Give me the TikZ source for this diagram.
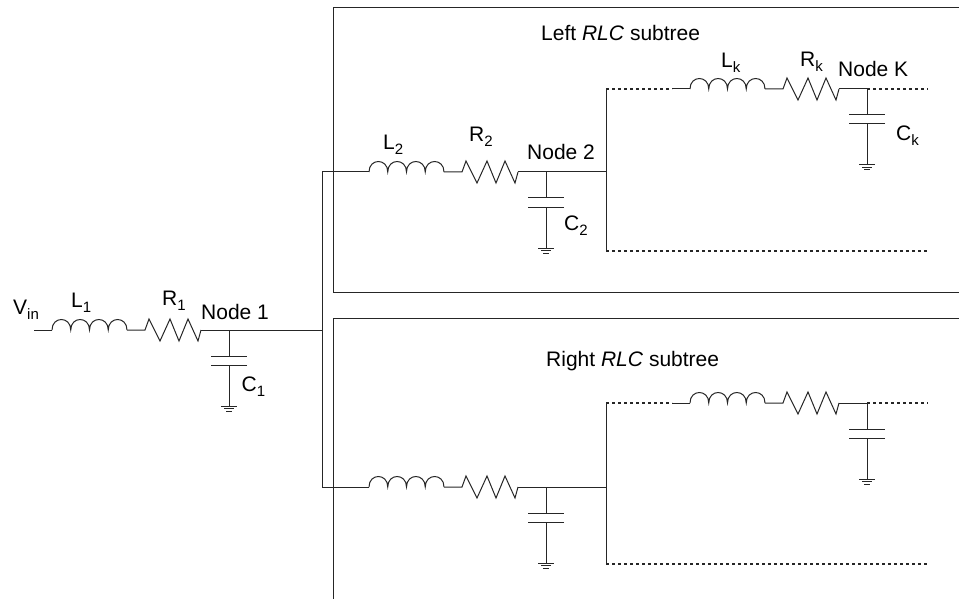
\documentclass[tikz,border=0pt]{standalone}
\usepackage{fontspec}
\setmainfont{Liberation Sans}
\newcommand{\lsub}[1]{\raisebox{-5pt}{\fontsize{15}{18}\selectfont #1}}
\tikzset{
  wire/.style={line width=1pt,black!85},
  dots/.style={line width=1.2pt,black!85,dash pattern=on 3.2pt off 2.8pt},
  lbl/.style={inner sep=0pt,anchor=base west,font=\fontsize{21}{24}\selectfont},
  pics/rlc/.style={code={
    \coordinate (-in) at (0,0);
    \coordinate (-lout) at (75,0);
    \coordinate (-rin) at (93,0);
    \coordinate (-out) at (149,0);
    \coordinate (-node) at (177,0);
    \coordinate (-gnd) at (177,76);
    % coil
    \draw[wire] (-in) \foreach \i in {1,...,4}{.. controls +(0,-14) and +(0,-14) .. ++(18.75,0)};
    % resistor
    \draw[wire] (-lout) -- (-rin) -- ++(4,-11) -- ++(11,22) -- ++(10,-22) -- ++(9,22) -- ++(9,-22) -- ++(10,22) -- (-out);
    % capacitor and ground
    \draw[wire] (-node) -- ++(0,26) ++(-18,0) -- ++(36,0) ++(0,9) -- ++(-36,0) ++(18,0) -- (-gnd);
    \draw[wire] (-gnd) ++(-8,0) -- ++(16,0) ++(-13,2.5) -- ++(10,0) ++(-8,2.5) -- ++(6,0);
  }}
}
\begin{document}
\begin{tikzpicture}[x=1pt,y=-1pt]
\useasboundingbox (0,0) rectangle (959,599);
\coordinate (ltl) at (333,8);
\coordinate (ltr) at (959,8);
\coordinate (lbl) at (333,292);
\coordinate (lbr) at (959,292);
\coordinate (rtl) at (333,318);
\coordinate (rtr) at (959,318);
\coordinate (rbl) at (333,599);
\draw[wire] (ltr) -- (ltl) -- (lbl) -- (lbr);
\draw[wire] (rtr) -- (rtl) -- (rbl);

\pic (s1) at (52,330) {rlc};
\pic (s2) at (369,172) {rlc};
\pic (sk) at (690,89) {rlc};
\pic (t2) at (369,487) {rlc};
\pic (tk) at (690,403) {rlc};

\coordinate (vin) at (34,330);
\coordinate (bus) at (322,330);
\coordinate (bust) at (322,172);
\coordinate (busb) at (322,487);
\coordinate (fork) at (606,172);
\coordinate (forkt) at (606,89);
\coordinate (forkb) at (606,251);
\coordinate (forkbe) at (928,251);
\coordinate (kend) at (928,89);
\coordinate (sgap) at (672,89);
\coordinate (gork) at (606,487);
\coordinate (gorkt) at (606,403);
\coordinate (gorkb) at (606,564);
\coordinate (gorkbe) at (928,564);
\coordinate (tgap) at (672,403);
\coordinate (tend) at (928,403);

\draw[wire] (vin) -- (s1-in);
\draw[wire] (s1-out) -- (bus);
\draw[wire] (bust) -- (busb);
\draw[wire] (bust) -- (s2-in);
\draw[wire] (busb) -- (t2-in);
\draw[wire] (s2-out) -- (fork);
\draw[wire] (t2-out) -- (gork);
\draw[wire] (forkt) -- (forkb);
\draw[wire] (gorkt) -- (gorkb);
\draw[dots] (forkt) -- (sgap);
\draw[wire] (sgap) -- (sk-in);
\draw[wire] (sk-out) -- (sk-node);
\draw[dots] (sk-node) -- (kend);
\draw[dots] (forkb) -- (forkbe);
\draw[dots] (gorkt) -- (tgap);
\draw[wire] (tgap) -- (tk-in);
\draw[wire] (tk-out) -- (tk-node);
\draw[dots] (tk-node) -- (tend);
\draw[dots] (gorkb) -- (gorkbe);

\node[lbl] (vinl) at (13,314) {V\lsub{in}};
\node[lbl] (l1) at (71,307) {L\lsub{1}};
\node[lbl] (r1) at (162,305) {R\lsub{1}};
\node[lbl] (n1) at (201,319) {Node 1};
\node[lbl] (c1) at (241.5,391) {C\lsub{1}};
\node[lbl] (l2) at (383,150) {L\lsub{2}};
\node[lbl] (r2) at (469,142) {R\lsub{2}};
\node[lbl] (n2) at (527,160) {Node 2};
\node[lbl] (c2) at (564,230) {C\lsub{2}};
\node[lbl] (lk) at (721,68) {L\lsub{k}};
\node[lbl] (rk) at (800,67) {R\lsub{k}};
\node[lbl] (nk) at (838,77) {Node K};
\node[lbl] (ck) at (896,141) {C\lsub{k}};
\node[lbl] (lsubt) at (541,41) {Left \textit{RLC} subtree};
\node[lbl] (rsubt) at (546,366) {Right \textit{RLC} subtree};
\end{tikzpicture}
\end{document}
